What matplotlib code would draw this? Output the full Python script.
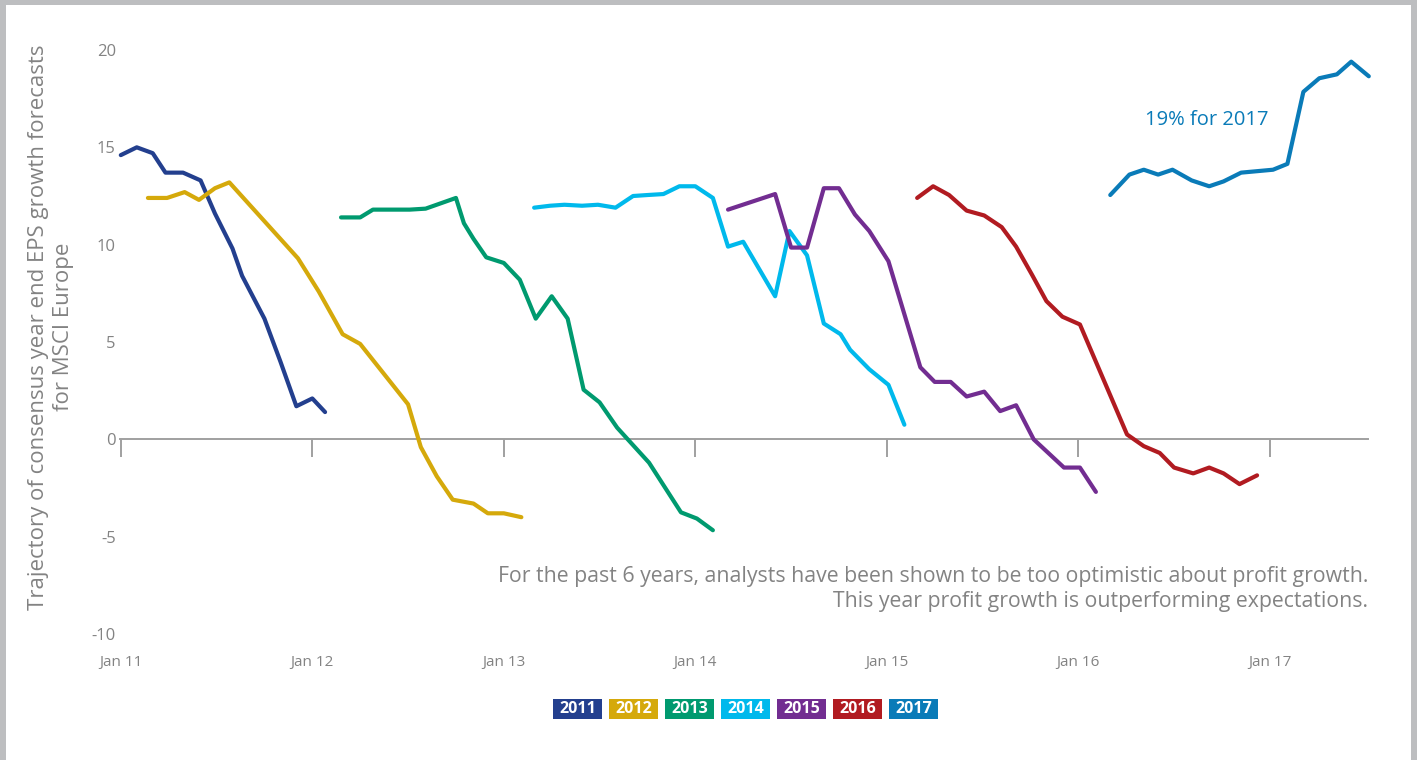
import numpy as np
import matplotlib.pyplot as plt
from matplotlib.patches import Rectangle

# months since Jan 2011 / consensus EPS growth forecast (%) for each target year
m_2011 = [0, 1, 2, 2.8, 3.9, 5.0, 5.9, 7.0, 7.6, 9.0, 10.0, 11.0, 12.0, 12.8]
v_2011 = [14.6, 15.0, 14.7, 13.7, 13.7, 13.3, 11.6, 9.8, 8.4, 6.2, 4.0, 1.7, 2.1, 1.4]

m_2012 = [1.7, 2.9, 4.0, 4.9, 5.9, 6.8, 11.1, 12.4, 13.9, 15.0, 18.0, 18.8, 19.8, 20.8, 22.1, 23.0, 24.0, 25.1]
v_2012 = [12.4, 12.4, 12.7, 12.3, 12.9, 13.2, 9.3, 7.6, 5.4, 4.9, 1.8, -0.4, -1.9, -3.1, -3.3, -3.8, -3.8, -4.0]

m_2013 = [13.8, 15.0, 15.8, 18.1, 19.1, 21.0, 21.5, 22.1, 22.9, 24.0, 25.0, 26.0, 27.0, 28.0, 29.0,
          30.0, 31.1, 32.1, 33.1, 35.1, 36.1, 37.1]
v_2013 = [11.4, 11.4, 11.8, 11.8, 11.85, 12.4, 11.1, 10.3, 9.35, 9.06, 8.2, 6.2, 7.35, 6.2, 2.55,
          1.9, 0.6, -0.3, -1.2, -3.75, -4.07, -4.67]

m_2014 = [25.9, 26.9, 27.8, 28.9, 29.9, 31.0, 32.1, 33.0, 34.0, 35.0, 36.0, 37.1, 38.05, 39.0, 41.0,
          41.9, 43.0, 44.05, 45.1, 45.7, 46.9, 48.1, 49.1]
v_2014 = [11.9, 12.0, 12.05, 12.0, 12.05, 11.9, 12.5, 12.55, 12.6, 13.0, 13.0, 12.4, 9.9, 10.15, 7.35,
          10.7, 9.45, 5.95, 5.4, 4.6, 3.6, 2.8, 0.75]

m_2015 = [38.05, 41.0, 42.0, 43.0, 44.05, 45.0, 46.0, 46.9, 48.1, 50.1, 51.0, 52.0, 53.0, 54.1,
          55.1, 56.1, 57.2, 59.1, 60.1, 61.1]
v_2015 = [11.8, 12.6, 9.85, 9.85, 12.9, 12.9, 11.55, 10.7, 9.15, 3.7, 2.95, 2.95, 2.2, 2.45,
          1.45, 1.75, 0.0, -1.45, -1.45, -2.7]

m_2016 = [49.9, 50.9, 51.9, 53.0, 54.1, 55.2, 56.1, 57.1, 58.0, 59.0, 60.1, 63.05, 64.1, 65.1,
          66.0, 67.2, 68.2, 69.1, 70.1, 71.2]
v_2016 = [12.4, 13.0, 12.55, 11.75, 11.5, 10.9, 9.9, 8.45, 7.1, 6.3, 5.9, 0.25, -0.35, -0.7,
          -1.45, -1.75, -1.45, -1.75, -2.3, -1.85]

m_2017 = [62.0, 63.2, 64.1, 65.0, 65.9, 67.1, 68.2, 69.1, 70.2, 72.2, 73.1, 74.1, 75.1, 76.2, 77.1, 78.2]
v_2017 = [12.55, 13.6, 13.85, 13.6, 13.85, 13.3, 13.0, 13.25, 13.7, 13.85, 14.15, 17.85, 18.55, 18.75, 19.4, 18.65]

years = ["2011", "2012", "2013", "2014", "2015", "2016", "2017"]
colors = ["#233f8e", "#d5a90b", "#009a6f", "#00b9ec", "#722d91", "#b11b21", "#0a7bb8"]
series = [(m_2011, v_2011), (m_2012, v_2012), (m_2013, v_2013), (m_2014, v_2014),
          (m_2015, v_2015), (m_2016, v_2016), (m_2017, v_2017)]

tick_months = [0, 12, 24, 36, 48, 60, 72]
tick_labels = ["Jan 11", "Jan 12", "Jan 13", "Jan 14", "Jan 15", "Jan 16", "Jan 17"]
y_ticks = [-10, -5, 0, 5, 10, 15, 20]

plt.rcParams['font.family'] = ['Open Sans', 'DejaVu Sans']
GREY = "#838383"

fig = plt.figure(figsize=(14.17, 7.6), dpi=100)
fig.patch.set_facecolor("#bdbec0")
# white page inside the grey frame, kept behind everything else
fig.patches.append(Rectangle((6 / 1417, 0), 1 - 12 / 1417, 1 - 5 / 760,
                             transform=fig.transFigure, facecolor="white",
                             edgecolor="none", zorder=-10))

ax = fig.add_axes([120 / 1417, 1 - 634 / 760, 1248 / 1417, 584 / 760])
ax.set_facecolor("none")
ax.set_zorder(2)

for (m, v), c in zip(series, colors):
    ax.plot(m, v, color=c, lw=3.0, solid_capstyle="round", clip_on=False, zorder=3)

ax.set_xlim(-0.05, 78.15)
ax.set_ylim(-10, 20)

for side in ["top", "right", "left"]:
    ax.spines[side].set_visible(False)
ax.spines["bottom"].set_position(("data", 0))
ax.spines["bottom"].set_color("#a0a0a0")
ax.spines["bottom"].set_linewidth(1.4)
ax.set_xticks(tick_months)
ax.tick_params(axis="x", length=13, width=1.4, color="#a0a0a0", labelbottom=False)

ax.set_yticks(y_ticks)
ax.set_yticklabels([str(t) for t in y_ticks])
ax.tick_params(axis="y", length=0, pad=3, labelsize=12, labelcolor=GREY)

# month labels sit under the plot area, away from the zero axis
sec = ax.secondary_xaxis(0)
sec.set_xticks(tick_months, tick_labels)
sec.tick_params(length=0, pad=15, labelsize=11, labelcolor=GREY)
sec.spines["bottom"].set_visible(False)

ax.text(64.2, 16.4, "19% for 2017", color=colors[-1], fontsize=14.5, va="center", ha="left")
ax.text(78.15, -7.7, "For the past 6 years, analysts have been shown to be too optimistic about profit growth.\n"
        "This year profit growth is outperforming expectations.",
        ha="right", va="center", multialignment="right", color=GREY, fontsize=15.3, linespacing=1.27)

fig.text(51 / 1417, 1 - 327 / 760,
         "Trajectory of consensus year end EPS growth forecasts\nfor MSCI Europe",
         rotation=90, ha="center", va="center", multialignment="center",
         color=GREY, fontsize=16, linespacing=1.25)

# colour key boxes
box_w, box_h, step = 49, 20, 56
x0, y0 = 553, 699
for i, (yr, c) in enumerate(zip(years, colors)):
    left = (x0 + i * step) / 1417
    bottom = 1 - (y0 + box_h) / 760
    fig.patches.append(Rectangle((left, bottom), box_w / 1417, box_h / 760,
                                 transform=fig.transFigure, facecolor=c, edgecolor="none"))
    fig.text(left + box_w / 2 / 1417, bottom + box_h / 2 / 760, yr, color="white",
             fontsize=11.5, fontweight="bold", ha="center", va="center")

fig.savefig("out.png", dpi=100)
